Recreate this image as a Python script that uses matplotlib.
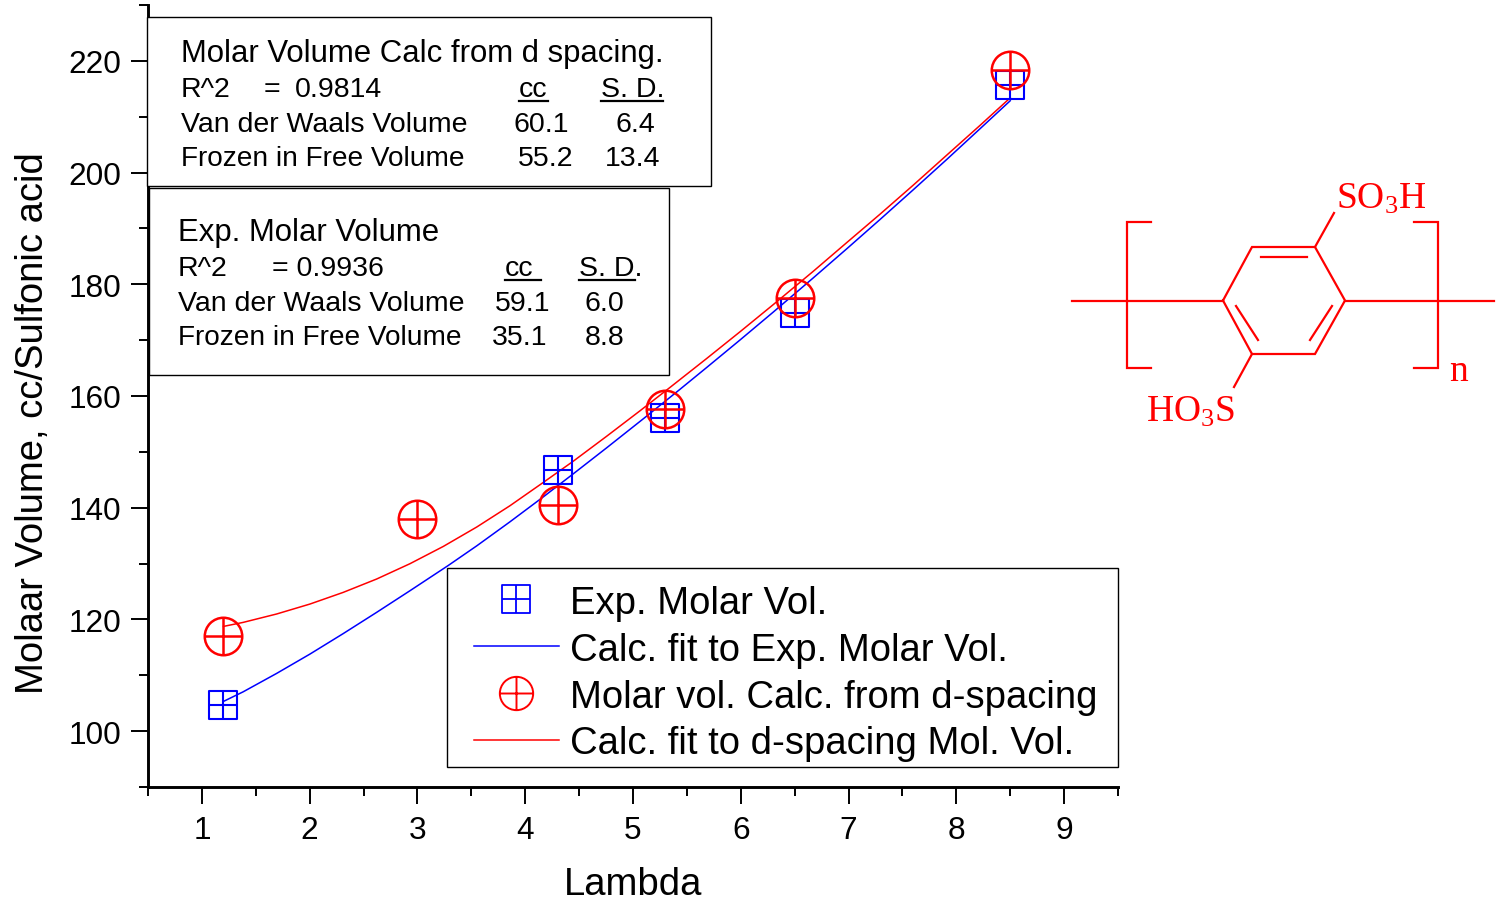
import matplotlib
matplotlib.use('Agg')
import matplotlib.pyplot as plt
from matplotlib.lines import Line2D
from matplotlib.path import Path
from matplotlib.patches import Rectangle
from matplotlib.ticker import MultipleLocator

plt.rcParams['font.family'] = ['Liberation Sans', 'DejaVu Sans']
plt.rcParams['mathtext.fontset'] = 'custom'
plt.rcParams['mathtext.rm'] = 'Liberation Serif'

# measured points
exp_lambda = [1.2, 4.3, 5.3, 6.5, 8.5]
exp_vol = [104.7, 146.7, 156, 174.8, 215.7]
calc_lambda = [1.2, 3.0, 4.3, 5.3, 6.5, 8.5]
calc_vol = [117, 138, 140.5, 157.7, 177.6, 218.3]

# fit curves
fit_exp_lambda = [1.2, 1.383, 1.693, 2.002, 2.311, 2.621, 2.93, 3.286, 3.55, 3.858,
                  4.165, 4.446, 4.756, 5.127, 5.436, 5.684, 5.993, 6.30, 6.671, 6.986,
                  7.292, 7.598, 7.914, 8.22, 8.5]
fit_exp_vol = [105.32, 107.04, 110.33, 113.79, 117.46, 121.26, 125.13, 129.66, 133.17, 137.47,
               141.9, 146.07, 150.73, 156.40, 161.20, 165.11, 170.03, 175.0, 181.12, 186.40,
               191.60, 196.88, 202.40, 207.85, 212.86]
fit_calc_lambda = [1.2, 1.383, 1.693, 2.002, 2.311, 2.621, 2.93, 3.24, 3.55, 3.858,
                   4.168, 4.446, 4.756, 5.065, 5.343, 5.684, 5.993, 6.30, 6.671, 6.983,
                   7.292, 7.598, 7.911, 8.22, 8.5]
fit_calc_vol = [118.75, 119.47, 120.97, 122.75, 124.84, 127.23, 129.97, 133.07, 136.54, 140.35,
                144.53, 148.33, 152.80, 157.35, 161.53, 166.72, 171.50, 176.34, 182.30, 187.46,
                192.55, 197.71, 203.12, 208.45, 213.38]

legend_labels = ['Exp. Molar Vol.', 'Calc. fit to Exp. Molar Vol.',
                 'Molar vol. Calc. from d-spacing', 'Calc. fit to d-spacing Mol. Vol.']


# open markers with a cross inside
def cross_marker(outline):
    cross = Path([(-1, 0), (1, 0), (0, -1), (0, 1)],
                 [Path.MOVETO, Path.LINETO, Path.MOVETO, Path.LINETO])
    return Path.make_compound_path(outline, cross)


square_plus = cross_marker(Path([(-1, -1), (1, -1), (1, 1), (-1, 1), (-1, -1)], closed=True))
circle_plus = cross_marker(Path.unit_circle())

W, H = 1499, 903
fig = plt.figure(figsize=(W / 100, H / 100), dpi=100)
ax = fig.add_axes([148 / W, 1 - 788 / H, (1118 - 148) / W, (788 - 6) / H])

ax.plot(fit_exp_lambda, fit_exp_vol, color='#0000ff', lw=1.1, zorder=2)
ax.plot(fit_calc_lambda, fit_calc_vol, color='#ff0000', lw=1.1, zorder=2)
ax.plot(exp_lambda, exp_vol, ls='none', marker=square_plus, ms=20, mfc='none',
        mec='#0000ff', mew=1.5, zorder=3)
ax.plot(calc_lambda, calc_vol, ls='none', marker=circle_plus, ms=27, mfc='none',
        mec='#ff0000', mew=1.8, zorder=4)

ax.set_xlim(0.5, 9.5)
ax.set_ylim(90, 230)
ax.xaxis.set_major_locator(MultipleLocator(1))
ax.xaxis.set_minor_locator(MultipleLocator(0.5))
ax.yaxis.set_major_locator(MultipleLocator(20))
ax.yaxis.set_minor_locator(MultipleLocator(10))
ax.spines['top'].set_visible(False)
ax.spines['right'].set_visible(False)
ax.spines['left'].set_linewidth(2.1)
ax.spines['bottom'].set_linewidth(2.1)
ax.tick_params(which='major', length=12, width=1.4, labelsize=22.8)
ax.tick_params(which='minor', length=6.5, width=1.4)
ax.tick_params(axis='x', which='major', pad=8.5)
ax.tick_params(axis='y', which='major', pad=7)
ax.set_xlabel('Lambda', fontsize=27.5, labelpad=15)
ax.set_ylabel('Molaar Volume, cc/Sulfonic acid', fontsize=27.5, labelpad=13, y=0.4668)

# legend frame is its own patch, the rows sit lower in it than a legend's padding allows
ax.add_patch(Rectangle(((447 - 148) / 970, (788 - 768) / 782), 671 / 970, 199 / 782,
                       transform=ax.transAxes, fc='white', ec='black', lw=1.0, zorder=5,
                       clip_on=False))
handles = [
    Line2D([], [], ls='none', marker=square_plus, ms=20, mfc='none', mec='#0000ff', mew=1.3),
    Line2D([], [], color='#0000ff', lw=1.1),
    Line2D([], [], ls='none', marker=circle_plus, ms=24, mfc='none', mec='#ff0000', mew=1.4),
    Line2D([], [], color='#ff0000', lw=1.1),
]
leg = ax.legend(handles, legend_labels, loc='lower left',
                bbox_to_anchor=((474 - 148) / 970, (788 - 762.5) / 782),
                borderaxespad=0, fontsize=27.5, handlelength=2.225, handletextpad=0.288,
                labelspacing=0.285, borderpad=0, frameon=False)
leg.set_zorder(6)

# overlay in image pixels for the text boxes and the structure
ov = fig.add_axes([0, 0, 1, 1], zorder=10)
ov.set_xlim(0, W)
ov.set_ylim(H - 1, -1)
ov.axis('off')

ov.add_patch(Rectangle((147, 17), 564, 169, fc='white', ec='black', lw=1.0))
ov.add_patch(Rectangle((149, 188), 520, 187, fc='white', ec='black', lw=1.0))


def put(x, y, s, size=20.5):
    ov.text(x, y - 1, s, fontsize=size, va='baseline', ha='left', color='black')


put(181, 62, 'Molar Volume Calc from d spacing.', 22.4)
put(181, 97, 'R^2')
put(264, 97, '=')
put(295, 97, '0.9814')
put(519, 97, 'cc')
put(601, 97, 'S. D.')
put(181, 132, 'Van der Waals Volume')
put(514, 132, '60.1')
put(616, 132, '6.4')
put(181, 166, 'Frozen in Free Volume', 20.15)
put(518, 166, '55.2')
put(605, 166, '13.4')
ov.plot([519, 548], [101, 101], color='black', lw=1.6)
ov.plot([601, 663], [101, 101], color='black', lw=1.6)

put(178, 241, 'Exp. Molar Volume', 22.4)
put(178, 276, 'R^2')
put(272, 276, '= 0.9936')
put(505, 276, 'cc')
put(579, 276, 'S. D.')
put(178, 311, 'Van der Waals Volume')
put(495, 311, '59.1')
put(585, 311, '6.0')
put(178, 345, 'Frozen in Free Volume', 20.15)
put(492, 345, '35.1')
put(585, 345, '8.8')
ov.plot([505, 541], [280, 280], color='black', lw=1.6)
ov.plot([579, 635], [280, 280], color='black', lw=1.6)

# benzene disulfonic acid repeat unit
red = '#ff0000'
bonds = [
    ([1072, 1223], [300.5, 300.5]), ([1345, 1494], [300.5, 300.5]),
    ([1223, 1252, 1315, 1345, 1315, 1252, 1223], [300.5, 247, 247, 300.5, 354, 354, 300.5]),
    ([1261, 1307], [257, 257]), ([1236, 1258], [306, 340]), ([1332, 1310], [306, 340]),
    ([1315, 1334], [247, 213]), ([1252, 1234], [354, 387]),
    ([1151, 1127, 1127, 1151], [222, 222, 368, 368]),
    ([1414, 1438, 1438, 1414], [222, 222, 368, 368]),
]
for bx, by in bonds:
    ov.plot(bx, by, color=red, lw=1.6, solid_joinstyle='miter')
ov.text(1336, 208, r'SO$\mathregular{_3}$H', color=red, fontsize=27, family='Liberation Serif')
ov.text(1146, 421, r'HO$\mathregular{_3}$S', color=red, fontsize=27, family='Liberation Serif')
ov.text(1449, 380, 'n', color=red, fontsize=27, family='Liberation Serif')

fig.savefig('out.png', dpi=100)
